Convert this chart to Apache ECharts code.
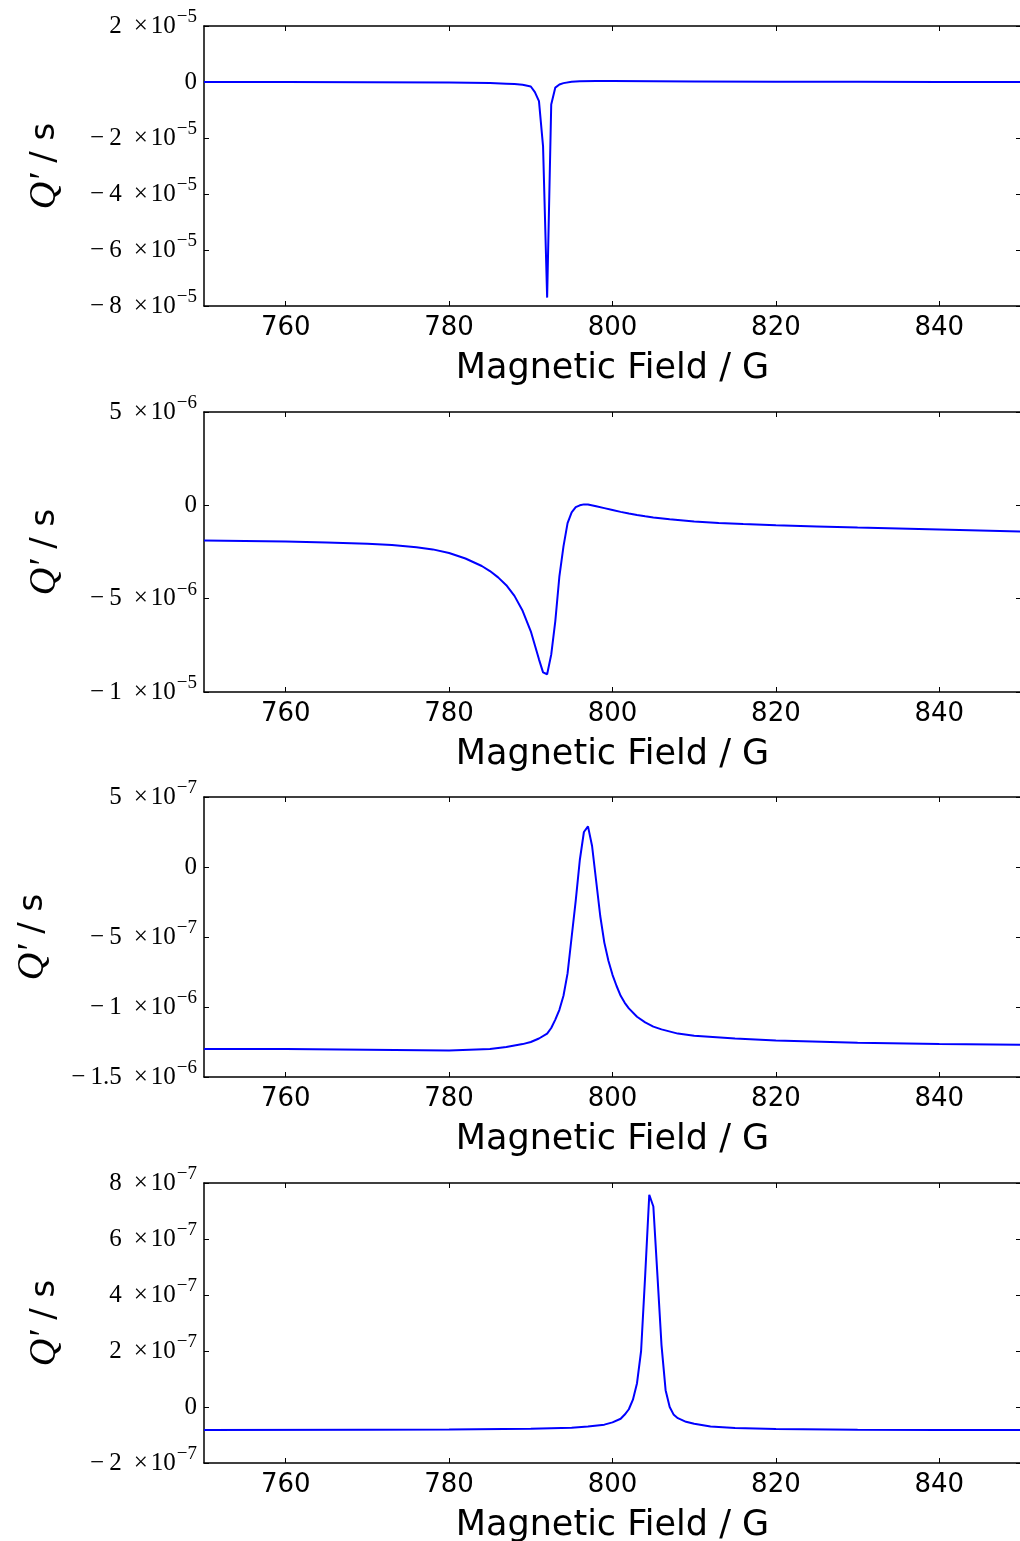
<!DOCTYPE html>
<html><head><meta charset="utf-8">
<script src="https://cdn.jsdelivr.net/npm/echarts@6/dist/echarts.min.js"></script>
<style>html,body{margin:0;padding:0;background:#fff}#c{width:1020px;height:1541px}</style>
</head><body><div id="c"></div>
<script>
// ---- data (Magnetic field in G, Q' in s) ----
const xTicks = [760, 780, 800, 820, 840];
const xName = 'Magnetic Field / G';

const field1 = [750, 760, 770, 780, 785, 787, 788, 789, 790, 790.5, 791, 791.5, 792, 792.5, 793, 793.5, 794, 795, 796, 798, 800, 805, 810, 820, 830, 840, 850];
const q1 = [0, 0, -0.1e-6, -0.2e-6, -0.4e-6, -0.6e-6, -0.75e-6, -1.0e-6, -1.6e-6, -3.6e-6, -6.8e-6, -2.3e-5, -7.7e-5, -8.0e-6, -2.0e-6, -0.9e-6, -0.4e-6, 0.1e-6, 0.3e-6, 0.4e-6, 0.4e-6, 0.3e-6, 0.2e-6, 0.1e-6, 0.05e-6, 0, 0];
const yTicks1 = [-8e-5, -6e-5, -4e-5, -2e-5, 0, 2e-5];

const field2 = [750, 760, 765, 770, 773, 776, 778, 780, 782, 784, 785, 786, 787, 788, 789, 790, 790.5, 791, 791.5, 792, 792.5, 793, 793.5, 794, 794.5, 795, 795.5, 796, 796.5, 797, 798, 799, 800, 801, 802, 803, 804, 805, 807, 810, 813, 816, 820, 825, 830, 840, 850];
const q2 = [-1.88e-6, -1.94e-6, -1.99e-6, -2.06e-6, -2.13e-6, -2.24e-6, -2.36e-6, -2.55e-6, -2.85e-6, -3.25e-6, -3.52e-6, -3.86e-6, -4.28e-6, -4.85e-6, -5.65e-6, -6.75e-6, -7.5e-6, -8.25e-6, -8.95e-6, -9.05e-6, -8.0e-6, -6.2e-6, -3.8e-6, -2.2e-6, -0.95e-6, -0.38e-6, -0.1e-6, 0.0, 0.05e-6, 0.04e-6, -0.05e-6, -0.15e-6, -0.25e-6, -0.35e-6, -0.44e-6, -0.52e-6, -0.59e-6, -0.65e-6, -0.75e-6, -0.86e-6, -0.94e-6, -1.0e-6, -1.07e-6, -1.13e-6, -1.19e-6, -1.29e-6, -1.4e-6];
const yTicks2 = [-1e-5, -5e-6, 0, 5e-6];

const field3 = [750, 760, 770, 780, 785, 787, 789, 790, 791, 792, 792.5, 793, 793.5, 794, 794.5, 795, 795.5, 796, 796.5, 797, 797.5, 798, 798.5, 799, 799.5, 800, 800.5, 801, 801.5, 802, 803, 804, 805, 806, 808, 810, 815, 820, 830, 840, 850];
const q3 = [-1.30e-6, -1.30e-6, -1.305e-6, -1.31e-6, -1.30e-6, -1.285e-6, -1.265e-6, -1.25e-6, -1.225e-6, -1.19e-6, -1.15e-6, -1.09e-6, -1.02e-6, -0.92e-6, -0.76e-6, -0.50e-6, -0.24e-6, 0.05e-6, 0.25e-6, 0.29e-6, 0.15e-6, -0.1e-6, -0.35e-6, -0.54e-6, -0.67e-6, -0.77e-6, -0.85e-6, -0.92e-6, -0.97e-6, -1.01e-6, -1.07e-6, -1.11e-6, -1.14e-6, -1.16e-6, -1.19e-6, -1.205e-6, -1.225e-6, -1.24e-6, -1.255e-6, -1.265e-6, -1.27e-6];
const yTicks3 = [-1.5e-6, -1e-6, -5e-7, 0, 5e-7];

const field4 = [750, 770, 780, 790, 795, 797, 799, 800, 801, 801.5, 802, 802.5, 803, 803.5, 804, 804.5, 805, 805.5, 806, 806.5, 807, 807.5, 808, 809, 810, 812, 815, 820, 830, 840, 850];
const q4 = [-0.82e-7, -0.81e-7, -0.80e-7, -0.78e-7, -0.74e-7, -0.70e-7, -0.63e-7, -0.55e-7, -0.42e-7, -0.27e-7, -0.08e-7, 0.26e-7, 0.85e-7, 2.0e-7, 4.7e-7, 7.58e-7, 7.16e-7, 4.7e-7, 2.2e-7, 0.6e-7, 0.0, -0.28e-7, -0.40e-7, -0.53e-7, -0.60e-7, -0.70e-7, -0.75e-7, -0.79e-7, -0.81e-7, -0.82e-7, -0.82e-7];
const yTicks4 = [-2e-7, 0, 2e-7, 4e-7, 6e-7, 8e-7];

const panels = [
  {x: field1, y: q1, ticks: yTicks1, interval: 2e-5, top: 26, nameGap: 140},
  {x: field2, y: q2, ticks: yTicks2, interval: 5e-6, top: 412, nameGap: 140},
  {x: field3, y: q3, ticks: yTicks3, interval: 5e-7, top: 797, nameGap: 152},
  {x: field4, y: q4, ticks: yTicks4, interval: 2e-7, top: 1183, nameGap: 140}
];

function sci(v) {
  if (Math.abs(v) < 1e-15) return '{m|0}';
  let e = Math.floor(Math.log10(Math.abs(v)) + 1e-9);
  let m = Math.round(v / Math.pow(10, e) * 100) / 100;
  if (Math.abs(m) >= 10) { m /= 10; e += 1; }
  const ms = (m < 0 ? '{m|\u2212}{n| }' : '') + '{m|' + Math.abs(m) + '}';
  return ms + '{g| }{m|\u00d7}{h| }{m|10}{e|\u2212' + (-e) + '}';
}

const serif = 'Liberation Serif';
const sans = 'DejaVu Sans';
const grids = [], xAxes = [], yAxes = [], series = [];
const spine = {show: true, onZero: false, lineStyle: {color: '#000', width: 1.5}};
const tick = {show: true, inside: true, length: 5, lineStyle: {color: '#000', width: 1}};

panels.forEach((p, i) => {
  const lo = Math.min(...p.ticks), hi = Math.max(...p.ticks);
  grids.push({left: 204, width: 817, top: p.top, height: 280, outerBoundsMode: 'none', containLabel: false});
  xAxes.push({
    type: 'value', gridIndex: i, position: 'bottom', min: 750, max: 850,
    axisLine: spine, splitLine: {show: false},
    axisTick: Object.assign({customValues: xTicks}, tick),
    axisLabel: {customValues: xTicks, margin: 9, fontFamily: sans, fontSize: 26, color: '#000'},
    name: xName, nameLocation: 'middle', nameGap: 45,
    nameTextStyle: {fontFamily: sans, fontSize: 35, color: '#000'}
  });
  xAxes.push({
    type: 'value', gridIndex: i, position: 'top', min: 750, max: 850,
    axisLine: spine, splitLine: {show: false},
    axisTick: Object.assign({customValues: xTicks}, tick),
    axisLabel: {show: false}
  });
  yAxes.push({
    type: 'value', gridIndex: i, position: 'left', min: lo, max: hi, interval: p.interval,
    axisLine: spine, splitLine: {show: false},
    axisTick: Object.assign({customValues: p.ticks}, tick),
    axisLabel: {
      customValues: p.ticks, margin: 7, formatter: sci,
      fontFamily: serif, fontSize: 25, color: '#000',
      rich: {
        m: {fontFamily: serif, fontSize: 25, color: '#000'},
        n: {fontFamily: serif, fontSize: 25, width: 5},
        g: {fontFamily: serif, fontSize: 25, width: 12},
        h: {fontFamily: serif, fontSize: 25, width: 3},
        e: {fontFamily: serif, fontSize: 19, color: '#000', padding: [0, 0, 18, 1]}
      }
    },
    name: '{q|Q\u2032}{s| / s}', nameLocation: 'middle', nameRotate: 90, nameGap: p.nameGap,
    nameTextStyle: {fontSize: 34, rich: {
      q: {fontFamily: serif, fontStyle: 'italic', fontSize: 38, color: '#000'},
      s: {fontFamily: sans, fontSize: 34, color: '#000'}
    }}
  });
  yAxes.push({
    type: 'value', gridIndex: i, position: 'right', min: lo, max: hi, interval: p.interval,
    axisLine: spine, splitLine: {show: false},
    axisTick: Object.assign({customValues: p.ticks}, tick),
    axisLabel: {show: false}
  });
  series.push({
    type: 'line', xAxisIndex: 2 * i, yAxisIndex: 2 * i,
    data: p.x.map((xv, k) => [xv, p.y[k]]),
    showSymbol: false, symbol: 'none', smooth: false, clip: true,
    lineStyle: {color: '#0000ff', width: 2}
  });
});

const chart = echarts.init(document.getElementById('c'), null, {renderer: 'canvas'});
chart.setOption({
  animation: false, backgroundColor: '#fff',
  grid: grids, xAxis: xAxes, yAxis: yAxes, series: series
});
</script></body></html>
